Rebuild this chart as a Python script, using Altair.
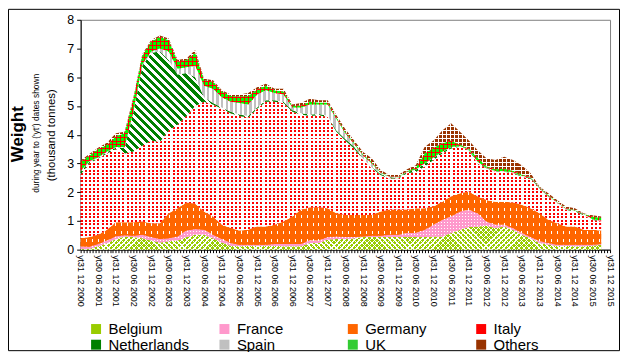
import math
import altair as alt
import pandas as pd

FONT = "Liberation Sans, Arial, sans-serif"
PLOT_W, PLOT_H, YMAX = 532, 231, 8

# quarter-end dates (data sampled quarterly from the picture)
dates = []
for yr in range(2000, 2016):
    for mo, dy in [(3, 31), (6, 30), (9, 30), (12, 31)]:
        d = f"{yr}-{mo:02d}-{dy:02d}"
        if "2000-12-31" <= d <= "2015-09-30":
            dates.append(d)

series_names = ["Belgium", "France", "Germany", "Italy", "Netherlands", "Spain", "UK", "Others"]

belgium = [0.02, 0.03, 0.12, 0.23, 0.37, 0.46, 0.44, 0.40, 0.32, 0.25,
           0.29, 0.32, 0.44, 0.52, 0.52, 0.40, 0.25, 0.14, 0.12, 0.14,
           0.14, 0.14, 0.14, 0.12, 0.12, 0.12, 0.23, 0.23, 0.35, 0.37,
           0.37, 0.40, 0.44, 0.44, 0.44, 0.44, 0.44, 0.44, 0.44, 0.44,
           0.46, 0.46, 0.58, 0.69, 0.79, 0.81, 0.83, 0.75, 0.81, 0.69,
           0.52, 0.40, 0.23, 0.17, 0.14, 0.14, 0.12, 0.12, 0.14, 0.17]
france = [0.10, 0.07, 0.08, 0.09, 0.10, 0.04, 0.04, 0.12, 0.12, 0.12,
          0.11, 0.14, 0.23, 0.20, 0.17, 0.12, 0.12, 0.09, 0.05, 0.03,
          0.03, 0.03, 0.06, 0.08, 0.08, 0.08, 0.10, 0.09, 0.09, 0.09,
          0.07, 0.04, 0.02, 0.04, 0.04, 0.08, 0.08, 0.14, 0.14, 0.25,
          0.41, 0.58, 0.57, 0.64, 0.60, 0.46, 0.15, 0.12, 0.06, 0.06,
          0.06, 0.04, 0.06, 0.06, 0.03, 0.03, 0.05, 0.05, 0.03, 0.03]
germany = [0.28, 0.34, 0.32, 0.37, 0.48, 0.45, 0.47, 0.46, 0.48, 0.55,
           0.87, 0.98, 0.97, 0.88, 0.64, 0.63, 0.50, 0.52, 0.50, 0.52,
           0.64, 0.64, 0.67, 0.78, 0.95, 1.20, 1.14, 1.16, 1.00, 0.81,
           0.77, 0.77, 0.75, 0.73, 0.85, 0.87, 0.87, 0.81, 0.86, 0.75,
           0.63, 0.63, 0.70, 0.63, 0.63, 0.58, 0.75, 0.80, 0.80, 0.89,
           0.98, 1.00, 0.98, 0.81, 0.75, 0.64, 0.64, 0.52, 0.52, 0.47]
italy = [2.22, 2.56, 2.65, 2.66, 2.55, 2.40, 2.47, 2.64, 2.88, 2.83,
         2.88, 2.91, 3.01, 3.40, 3.82, 3.90, 4.03, 4.00, 3.98, 3.91,
         4.09, 4.34, 4.28, 4.12, 3.65, 3.30, 3.18, 3.20, 3.18, 2.83,
         2.59, 2.31, 1.91, 1.62, 1.27, 1.09, 1.09, 1.27, 1.26, 1.45,
         1.62, 1.68, 1.67, 1.62, 1.44, 1.15, 1.10, 1.04, 1.04, 1.02,
         0.98, 1.04, 0.87, 0.81, 0.70, 0.58, 0.52, 0.52, 0.35, 0.31]
netherlands = [0.10, 0.05, 0.03, 0.05, 0.05, 0.20, 1.38, 2.78, 3.05, 3.15,
               2.45, 1.75, 1.50, 1.00, 0.15, 0.05, 0.05, 0.05, 0.05, 0.05,
               0.05, 0.05, 0.05, 0.05, 0.05, 0.05, 0.05, 0.04, 0.04, 0.05,
               0.05, 0.06, 0.05, 0.05, 0.03, 0.04, 0.02, 0.04, 0.08, 0.11,
               0.08, 0.05, 0.04, 0.02, 0.02, 0.05, 0.02, 0.02, 0.02, 0.02,
               0.02, 0.02, 0.02, 0.02, 0.02, 0.02, 0.02, 0.02, 0.02, 0.02]
spain = [0.03, 0.03, 0.02, 0.02, 0.02, 0.02, 0.02, 0.05, 0.05, 0.10,
         0.30, 0.20, 0.20, 0.40, 0.40, 0.50, 0.35, 0.35, 0.40, 0.40,
         0.45, 0.35, 0.25, 0.25, 0.10, 0.20, 0.35, 0.33, 0.39, 0.40,
         0.20, 0.10, 0.11, 0.12, 0.05, 0.02, 0.02, 0.01, 0.01, 0.01,
         0.01, 0.01, 0.01, 0.01, 0.01, 0.01, 0.01, 0.01, 0.01, 0.01,
         0.01, 0.01, 0.01, 0.01, 0.01, 0.01, 0.01, 0.01, 0.01, 0.01]
uk = [0.30, 0.20, 0.28, 0.23, 0.38, 0.48, 0.43, 0.30, 0.35, 0.40,
      0.40, 0.25, 0.25, 0.45, 0.20, 0.25, 0.20, 0.20, 0.23, 0.30,
      0.18, 0.15, 0.10, 0.10, 0.05, 0.07, 0.10, 0.07, 0.07, 0.05,
      0.05, 0.04, 0.04, 0.05, 0.02, 0.01, 0.02, 0.03, 0.06, 0.34,
      0.34, 0.29, 0.23, 0.04, 0.03, 0.14, 0.04, 0.06, 0.08, 0.06,
      0.05, 0.02, 0.01, 0.02, 0.02, 0.02, 0.02, 0.01, 0.08, 0.09]
others = [0.05, 0.05, 0.05, 0.07, 0.10, 0.05, 0.05, 0.05, 0.05, 0.05,
          0.05, 0.05, 0.05, 0.10, 0.05, 0.05, 0.05, 0.05, 0.07, 0.10,
          0.07, 0.07, 0.05, 0.10, 0.05, 0.08, 0.10, 0.08, 0.08, 0.08,
          0.10, 0.08, 0.08, 0.13, 0.07, 0.05, 0.06, 0.06, 0.09, 0.23,
          0.25, 0.45, 0.60, 0.45, 0.28, 0.26, 0.28, 0.32, 0.41, 0.37,
          0.32, 0.13, 0.02, 0.06, 0.06, 0.06, 0.06, 0.02, 0.05, 0.05]

values = [belgium, france, germany, italy, netherlands, spain, uk, others]
legend_colors = ["#99cc00", "#ff99cc", "#ff6600", "#ff0000", "#008000", "#c0c0c0", "#33cc33", "#993300"]

# ---- stacked long table ----
rows = []
cum = [0.0] * len(dates)
bounds = {}
for name, vals in zip(series_names, values):
    lo_list, hi_list = [], []
    for i, d in enumerate(dates):
        lo = cum[i]
        hi = lo + vals[i]
        rows.append({"date": d, "series": name, "value": vals[i], "lo": round(lo, 4), "hi": round(hi, 4)})
        lo_list.append(lo)
        hi_list.append(hi)
        cum[i] = hi
    bounds[name] = (min(lo_list), max(hi_list))
df = pd.DataFrame(rows)

# ---- x scale domain / ticks ----
t0 = pd.Timestamp("2000-12-31", tz="UTC")
t1 = pd.Timestamp("2015-12-31", tz="UTC")
dom = [int(t0.value // 10**6), int(t1.value // 10**6)]
tick_vals = []
for yr in range(2000, 2016):
    for mo in range(1, 13):
        ts = pd.Timestamp(year=yr, month=mo, day=1, tz="UTC") + pd.offsets.MonthEnd(0)
        if t0 <= ts <= t1:
            tick_vals.append(int(ts.value // 10**6))

data_w = PLOT_W * (pd.Timestamp(dates[-1], tz="UTC") - t0) / (t1 - t0)
px_per_unit = PLOT_H / YMAX


def stripes(nx, ny, W, H, bands):
    """Hard-stop linear gradient (objectBoundingBox units) giving stripes
    whose normal in screen space is (nx, ny); band widths in pixels."""
    n = math.hypot(nx, ny)
    nx, ny = nx / n, ny / n
    corners = [(0, 0), (W, 0), (0, H), (W, H)]
    s = [nx * X + ny * Y for X, Y in corners]
    smin, smax = min(s), max(s)
    cx, cy = corners[s.index(smin)]
    L = smax - smin
    k = L / (nx * nx * W * W + ny * ny * H * H)
    u1, w1 = cx / W, cy / H
    u2, w2 = u1 + k * nx * W, w1 + k * ny * H
    stops, pos = [], 0.0
    while pos < L:
        for col, wd in bands:
            a = min(pos / L, 1.0)
            b = min((pos + wd) / L, 1.0)
            stops.append({"offset": round(a, 5), "color": col})
            stops.append({"offset": round(b, 5), "color": col})
            pos += wd
            if pos >= L:
                break
    return {"gradient": "linear", "x1": round(u1, 5), "y1": round(w1, 5),
            "x2": round(u2, 5), "y2": round(w2, 5), "stops": stops}


CLEAR = "rgba(255,255,255,0)"
# (base stripes, overlay stripes) per series: (normal_x, normal_y, bands)
styles = {
    "Belgium": ((1, -1, [("#99cc00", 2.6), ("#ffffff", 1.0)]),
                (1, 1, [(CLEAR, 2.6), ("#ffffff", 1.0)])),
    "France": ((0, 1, [("#ffffff", 1), ("#ff99cc", 2)]),
               (1, 0, [("#ff99cc", 2), ("rgba(255,153,204,0)", 1)])),
    "Germany": ((0, 1, [("#ffffff", 3), ("#ff6600", 5)]),
                (1, 0, [("#ff6600", 5), ("rgba(255,102,0,0)", 1)])),
    "Italy": ((0, 1, [("#ff0000", 2), ("#ffffff", 1.6)]),
              (1, 0, [(CLEAR, 2), ("#ffffff", 2.2)])),
    "Netherlands": ((1, -1, [("#008000", 3.0), ("#ffffff", 2.7)]), None),
    "Spain": ((1, 0, [("#c0c0c0", 2.5), ("#ffffff", 2.2)]), None),
    "UK": ((0, 1, [("#ff0000", 1), ("#00ff00", 3)]),
           (1, 0, [("#ff0000", 1), ("rgba(0,255,0,0)", 3)])),
    "Others": ((0, 1, [("#993300", 3), ("#ffffff", 1)]),
               (1, 0, [("rgba(153,51,0,0)", 3), ("#ffffff", 1)])),
}

label_expr = ("(utcmonth(datum.value) == 5 || utcmonth(datum.value) == 11) ? "
              "utcFormat(datum.value, 'yt%d %m %Y') : ''")
X = alt.X("date:T",
          scale=alt.Scale(type="utc", domain=dom, nice=False),
          axis=alt.Axis(values=tick_vals, labelExpr=label_expr, labelAngle=90,
                        labelAlign="left", labelBaseline="middle",
                        labelFontSize=9, labelFont=FONT, labelColor="black",
                        labelOverlap=False, labelFlush=False, labelPadding=2,
                        tickSize=3, tickColor="black", domainColor="black",
                        grid=False, title=None))
Y = alt.Y("hi:Q",
          scale=alt.Scale(domain=[0, YMAX], nice=False),
          axis=alt.Axis(values=list(range(0, 9)), grid=False, title=None,
                        labelFontSize=12.5, labelFont=FONT, labelColor="black",
                        tickSize=4, tickColor="black", domainColor="black",
                        labelPadding=3))

layers = []
for name in series_names:
    lo_v, hi_v = bounds[name]
    H = max((hi_v - lo_v) * px_per_unit, 1.0)
    base, over = styles[name]
    for spec in (base, over):
        if spec is None:
            continue
        g = stripes(spec[0], spec[1], data_w, H, spec[2])
        layers.append(
            alt.Chart(df)
            .transform_filter(alt.datum.series == name)
            .mark_area(fill=g, opacity=1, interpolate="linear")
            .encode(x=X, y=Y, y2=alt.Y2("lo:Q"))
        )

legend = (
    alt.Chart(df)
    .mark_square(opacity=0, size=1)
    .encode(
        x=X, y=Y,
        color=alt.Color("series:N",
                        scale=alt.Scale(domain=series_names, range=legend_colors),
                        legend=alt.Legend(orient="none", legendX=8, legendY=303,
                                          direction="horizontal", columns=4,
                                          gridAlign="all", columnPadding=28,
                                          rowPadding=-1, symbolType="square",
                                          symbolSize=100, symbolOpacity=1,
                                          symbolStrokeWidth=0, labelFontSize=15,
                                          labelFont=FONT, labelColor="black",
                                          labelOffset=5, title=None, padding=0,
                                          labelLimit=200)),
    )
)

title_df = pd.DataFrame({"t": ["Weight"]})
sub_df = pd.DataFrame({"t": ["during year to ('yt') dates shown"]})
unit_df = pd.DataFrame({"t": ["(thousand tonnes)"]})
t_weight = alt.Chart(title_df).mark_text(angle=270, fontSize=17, fontWeight="bold",
                                         font=FONT, color="black", align="center",
                                         baseline="middle").encode(
    text="t:N", x=alt.value(-63), y=alt.value(115))
t_sub = alt.Chart(sub_df).mark_text(angle=270, fontSize=8.5, font=FONT, color="black",
                                    align="center", baseline="middle").encode(
    text="t:N", x=alt.value(-45), y=alt.value(114))
t_unit = alt.Chart(unit_df).mark_text(angle=270, fontSize=11.5, font=FONT, color="black",
                                      align="center", baseline="middle").encode(
    text="t:N", x=alt.value(-29), y=alt.value(116))

frame = alt.Chart(pd.DataFrame({"a": [0]})).mark_rect(
    fill="transparent", stroke="black", strokeWidth=1).encode(
    x=alt.value(-72.5), x2=alt.value(541.5), y=alt.value(-10.5), y2=alt.value(332.5))

chart = alt.layer(*layers, legend, t_weight, t_sub, t_unit, frame).properties(
    width=PLOT_W, height=PLOT_H,
    autosize=alt.AutoSizeParams(type="none"),
    padding={"left": 73, "top": 11, "right": 10, "bottom": 102},
).configure_view(stroke="#808080", strokeWidth=1)

chart.save("out.html", embed_options={"renderer": "svg", "actions": False})
